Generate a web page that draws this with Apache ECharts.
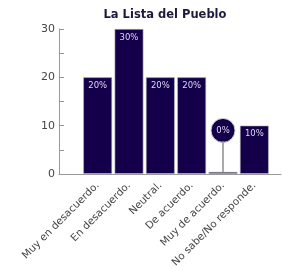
<!DOCTYPE html>
<html><head><meta charset="utf-8">
<script src="https://cdn.jsdelivr.net/npm/echarts@6/dist/echarts.min.js"></script>
<style>html,body{margin:0;padding:0;background:#fff}#c{width:282px;height:270px}</style>
</head><body><div id="c"></div>
<script>
const title = 'La Lista del Pueblo';
const categories = ['Muy en desacuerdo.', 'En desacuerdo.', 'Neutral.', 'De acuerdo.', 'Muy de acuerdo.', 'No sabe/No responde.'];
const values = [20, 30, 20, 20, 0.4, 10];
const labels = ['20%', '30%', '20%', '20%', '0%', '10%'];
const calloutCategory = 'Muy de acuerdo.';
const calloutValue = 9.0;
const calloutLineTop = 6.7;
const yTicks = [0, 10, 20, 30];

const font = 'DejaVu Sans';
const navy = '#14004a';
const chart = echarts.init(document.getElementById('c'));
chart.setOption({
  animation: false,
  title: { text: title, left: 160, textAlign: 'center', top: 4,
    textStyle: { fontFamily: font, fontWeight: 'bold', fontSize: 11.5, color: '#1c1a3c' } },
  grid: [
    { left: 82, right: 12, top: 29, bottom: 96 },
    { left: 59, right: 1, top: 29, bottom: 96 }
  ],
  xAxis: [
    { type: 'category', gridIndex: 0, data: categories,
      axisLine: { show: false }, axisTick: { show: false },
      axisLabel: { rotate: 45, interval: 0, margin: 10, fontFamily: font, fontSize: 10.3, color: '#444' } },
    { type: 'value', gridIndex: 1, min: 0, max: 1,
      axisLine: { show: true, lineStyle: { color: '#999', width: 1 } },
      axisTick: { show: false }, axisLabel: { show: false }, splitLine: { show: false } }
  ],
  yAxis: [
    { type: 'value', gridIndex: 0, min: 0, max: 30, interval: 5,
      axisLine: { show: false }, axisTick: { show: false }, axisLabel: { show: false }, splitLine: { show: false } },
    { type: 'value', gridIndex: 1, min: 0, max: 30, interval: 5,
      axisLine: { show: true, lineStyle: { color: '#999', width: 1 } },
      axisTick: { show: true, inside: true, length: 5, lineStyle: { color: '#999' } },
      axisLabel: { margin: 4, fontFamily: font, fontSize: 11, color: '#444',
        formatter: v => yTicks.includes(v) ? String(v) : '' },
      splitLine: { show: false } }
  ],
  series: [
    { type: 'bar', xAxisIndex: 0, yAxisIndex: 0, data: values, barCategoryGap: '8%',
      itemStyle: { color: navy, borderColor: '#bbb', borderWidth: 0.6 },
      label: { show: true, position: 'insideTop', distance: 4, fontFamily: font, fontSize: 8.5, color: '#ddd6f5',
        formatter: p => p.dataIndex === 4 ? '' : labels[p.dataIndex] },
      markLine: { silent: true, symbol: 'none', label: { show: false },
        lineStyle: { color: '#aaa', width: 2, type: 'solid' },
        data: [[{ xAxis: calloutCategory, yAxis: values[4] }, { xAxis: calloutCategory, yAxis: calloutLineTop }]] } },
    { type: 'scatter', xAxisIndex: 0, yAxisIndex: 0, symbol: 'circle', symbolSize: 24,
      data: [[calloutCategory, calloutValue]],
      itemStyle: { color: navy, opacity: 1, borderColor: '#ccc', borderWidth: 1 },
      label: { show: true, position: 'inside', formatter: labels[4], fontFamily: font, fontSize: 8.5, color: '#ddd6f5' } }
  ]
});
</script></body></html>
